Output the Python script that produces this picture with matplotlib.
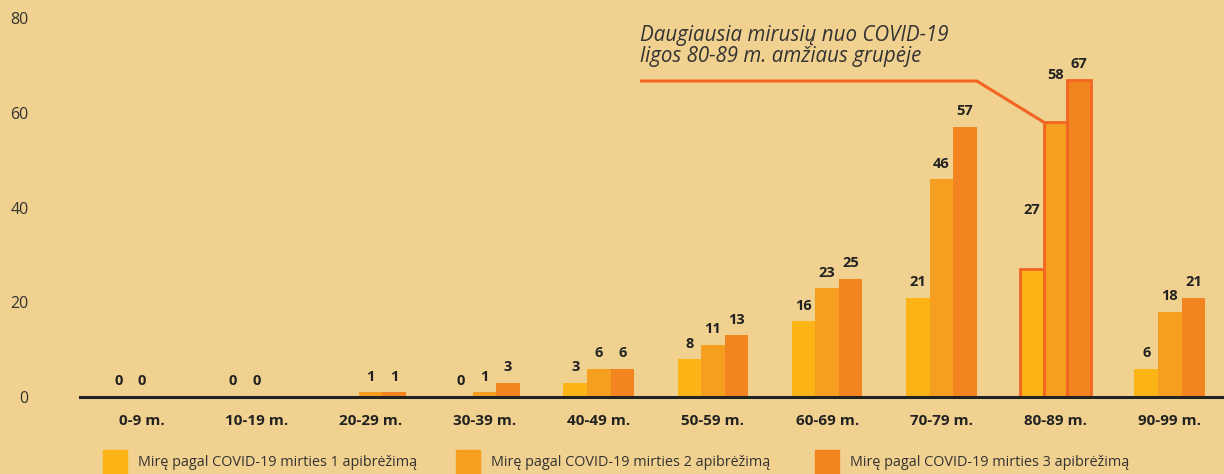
import numpy as np
import matplotlib
matplotlib.use("Agg")
import matplotlib.pyplot as plt
from matplotlib.patches import Rectangle

# data
age_groups = ["0-9 m.", "10-19 m.", "20-29 m.", "30-39 m.", "40-49 m.",
              "50-59 m.", "60-69 m.", "70-79 m.", "80-89 m.", "90-99 m."]
def1 = [0, 0, np.nan, 0, 3, 8, 16, 21, 27, 6]
def2 = [0, 0, 1, 1, 6, 11, 23, 46, 58, 18]
def3 = [np.nan, np.nan, 1, 3, 6, 13, 25, 57, 67, 21]
series_names = ["Mirę pagal COVID-19 mirties 1 apibrėžimą",
                "Mirę pagal COVID-19 mirties 2 apibrėžimą",
                "Mirę pagal COVID-19 mirties 3 apibrėžimą"]
y_ticks = [0, 20, 40, 60, 80]
highlight = 8  # 80-89 m.
note = "Daugiausia mirusių nuo COVID-19\nligos 80-89 m. amžiaus grupėje"

bg = "#F0D18F"
colors = ["#FBB316", "#F59E20", "#F2851F"]
accent = "#F26522"
dark = "#222222"

plt.rcParams["font.family"] = ["Open Sans", "DejaVu Sans"]

W, H = 1224, 474
fig = plt.figure(figsize=(W / 100, H / 100), dpi=100, facecolor=bg)
ax = fig.add_axes([80 / W, (H - 397) / H, (W - 80) / W, (397 - 18) / H])
ax.set_facecolor(bg)

x = np.arange(len(age_groups))
bw = 0.206
for k, vals in enumerate([def1, def2, def3]):
    vals = np.array(vals, dtype=float)
    xs = x + (k - 1) * bw
    ec = [accent if i == highlight else "none" for i in range(len(x))]
    ax.bar(xs, np.nan_to_num(vals), width=bw, color=colors[k], edgecolor=ec,
           linewidth=2, zorder=2)
    for i, (xi, v) in enumerate(zip(xs, vals)):
        if np.isnan(v):
            continue
        # labels of the outlined group sit higher, clear of the callout
        off = (11.0, 8.5)[k] if (i == highlight and k < 2) else 1.8
        ax.text(xi, v + off, "%d" % v, ha="center", va="bottom",
                fontsize=10.5, fontweight="bold", color=dark, zorder=4)

# annotation callout
ax.plot([4.36, 7.31, highlight - bw / 2], [66.7, 66.7, def2[highlight]],
        color=accent, lw=2.2, solid_capstyle="butt", zorder=3, clip_on=False)
ax.text(4.36, 69.6, note, ha="left", va="bottom", fontsize=14.8,
        style="italic", color="#333333", linespacing=1.0)

ax.set_xlim(-0.543, 9.475)
ax.set_ylim(0, 80)
ax.set_xticks(x)
ax.set_xticklabels(age_groups, fontweight="bold", fontsize=11, color=dark)
ax.set_yticks(y_ticks)
ax.set_yticklabels([str(t) for t in y_ticks], fontsize=11.5, color="#333333")
ax.tick_params(axis="x", length=0, pad=12)
ax.tick_params(axis="y", length=0, pad=37)
for s in ["top", "right", "left"]:
    ax.spines[s].set_visible(False)
ax.spines["bottom"].set_color(dark)
ax.spines["bottom"].set_linewidth(2.2)
ax.spines["bottom"].set_zorder(5)

# legend
leg_x = [103, 456, 815]
for k, name in enumerate(series_names):
    fig.patches.append(Rectangle((leg_x[k] / W, 0), 24 / W, 24 / H,
                                 transform=fig.transFigure, color=colors[k]))
    fig.text((leg_x[k] + 35) / W, 1 - 463 / H, name, ha="left", va="center",
             fontsize=10.4, color="#333333")

fig.savefig("out.png", dpi=100, facecolor=bg)
